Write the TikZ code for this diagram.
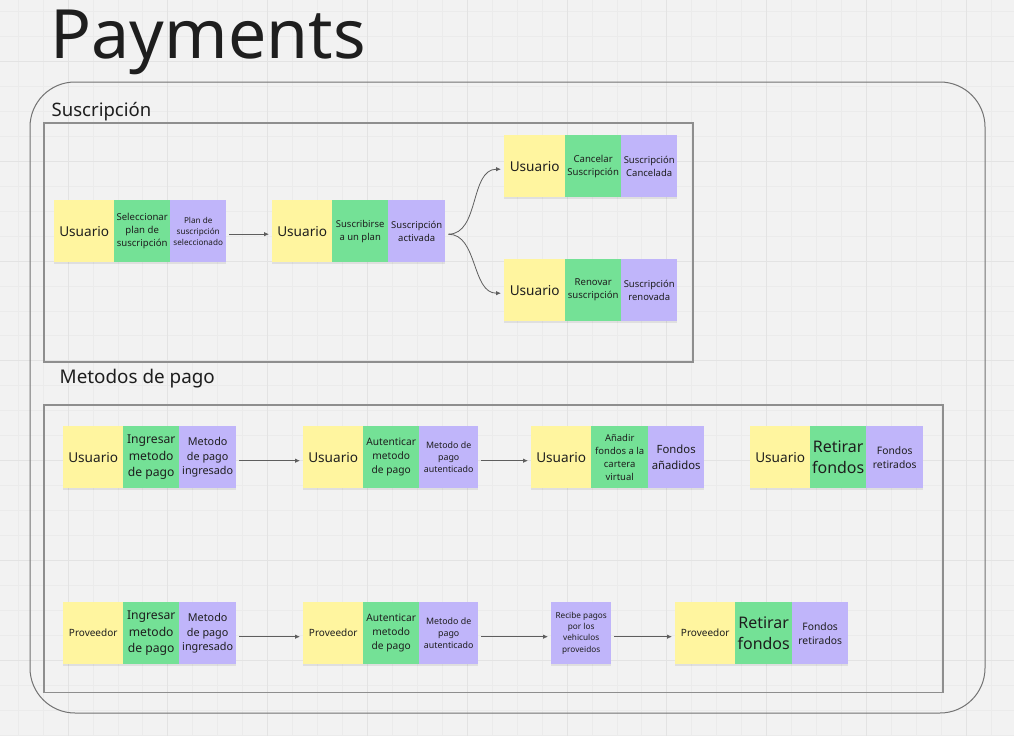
\documentclass[tikz,border=0pt]{standalone}
\usepackage{fontspec}
\setmainfont{Noto Sans}
\usetikzlibrary{arrows.meta,shadows}

\definecolor{bg}{HTML}{F2F2F2}
\definecolor{gridminor}{HTML}{EBEBEB}
\definecolor{gridmajor}{HTML}{E3E3E3}
\definecolor{outerc}{HTML}{727272}
\definecolor{framec}{HTML}{8E8E8E}
\definecolor{arrowc}{HTML}{5E5E5E}
\definecolor{ink}{HTML}{1E1E1E}
\definecolor{stkY}{HTML}{FFF59F}
\definecolor{stkG}{HTML}{74E196}
\definecolor{stkP}{HTML}{C0B5FA}

% font size with matching line spacing
\newcommand\sz[1]{\fontsize{\fpeval{1.03*#1}}{\fpeval{1.03*1.36*#1}}\selectfont}

\tikzset{
  sticky/.style={anchor=north west, minimum height=62pt, inner sep=1pt,
    align=center, text=ink,
    drop shadow={shadow xshift=0pt, shadow yshift=-1.5pt, opacity=0.08, fill=black}},
  yel/.style={sticky, fill=stkY, minimum width=60pt},
  grn/.style={sticky, fill=stkG, minimum width=56pt},
  pur/.style={sticky, fill=stkP, minimum width=56pt},
  flow/.style={draw=arrowc, line width=0.8pt,
    -{Latex[length=5pt,width=4.5pt]}, shorten <=3pt, shorten >=3pt},
  group/.style={draw=framec, line width=1.2pt},
  title/.style={anchor=base west, inner sep=0pt, text=ink},
}

\begin{document}
\begin{tikzpicture}[x=1pt, y=-1pt]
  \useasboundingbox (0,0) rectangle (1014,736);
  \fill[bg] (0,0) rectangle (1014,736);

  % background grid
  \foreach \i in {0,...,40} {
    \draw[gridminor, line width=0.8pt] ({18.1+24.95*\i},0) -- ({18.1+24.95*\i},736);
  }
  \foreach \i in {0,...,29} {
    \draw[gridminor, line width=0.8pt] (0,{11.5+24.95*\i}) -- (1014,{11.5+24.95*\i});
  }
  \foreach \i in {0,...,9} {
    \draw[gridmajor, line width=0.9pt] ({68+99.8*\i},0) -- ({68+99.8*\i},736);
  }
  \foreach \i in {-1,...,6} {
    \draw[gridmajor, line width=0.9pt] (0,{161.2+99.8*\i}) -- (1014,{161.2+99.8*\i});
  }

  % title and frames
  \node[title, font=\sz{66}] (ttl) at (50.5,58) {Payments};
  \draw[outerc, line width=1pt, rounded corners=45pt] (30,82) rectangle (985,713);

  \node[title, font=\sz{18}] (lsus) at (51.5,116.5) {Suscripción};
  \draw[group] (44,123) rectangle (693,362);

  \node[title, font=\sz{18.3}] (lmet) at (59.5,383.3) {Metodos de pago};
  \draw[group] (44,405) rectangle (943,692.5);

  % ---- Suscripción ----
  \node[yel, font=\sz{13.2}] (s1a) at (54,200) {Usuario};
  \node[grn, font=\sz{9.3}] (s1b) at (114,200) {Seleccionar\\plan de\\suscripción};
  \node[pur, font=\sz{7.9}] (s1c) at (170,200) {Plan de\\suscripción\\seleccionado};

  \node[yel, font=\sz{13.2}] (s2a) at (272,200) {Usuario};
  \node[grn, font=\sz{9.2}] (s2b) at (332,200) {Suscribirse\\a un plan};
  \node[pur, font=\sz{9.2}, minimum width=57pt] (s2c) at (388,200) {Suscripción\\activada};

  \node[yel, font=\sz{13.2}, minimum width=61pt] (s3a) at (504,135) {Usuario};
  \node[grn, font=\sz{9.3}] (s3b) at (565,135) {Cancelar\\Suscripción};
  \node[pur, font=\sz{9.2}] (s3c) at (621,135) {Suscripción\\Cancelada};

  \node[yel, font=\sz{13.2}, minimum width=61pt] (s4a) at (504,259) {Usuario};
  \node[grn, font=\sz{9.3}] (s4b) at (565,259) {Renovar\\suscripción};
  \node[pur, font=\sz{9.2}] (s4c) at (621,259) {Suscripción\\renovada};

  \draw[flow] ([yshift=-3pt]s1c.east) -- ([yshift=-3pt]s2a.west);
  \draw[flow] ([yshift=-3pt]s2c.east) to[out=0, in=180] ([yshift=-3pt]s3a.west);
  \draw[flow] ([yshift=-3pt]s2c.east) to[out=0, in=180] ([yshift=-3pt]s4a.west);

  % ---- Metodos de pago: usuario ----
  \node[yel, font=\sz{13.2}] (m1a) at (63,426) {Usuario};
  \node[grn, font=\sz{11.8}] (m1b) at (123,426) {Ingresar\\metodo\\de pago};
  \node[pur, font=\sz{10.5}, minimum width=57pt] (m1c) at (179,426) {Metodo\\de pago\\ingresado};

  \node[yel, font=\sz{13.2}] (m2a) at (303,426) {Usuario};
  \node[grn, font=\sz{9.9}] (m2b) at (363,426) {Autenticar\\metodo\\de pago};
  \node[pur, font=\sz{8.6}, minimum width=59pt] (m2c) at (419,426) {Metodo de\\pago\\autenticado};

  \node[yel, font=\sz{13.2}] (m3a) at (531,426) {Usuario};
  \node[grn, font=\sz{9.2}, minimum width=57pt] (m3b) at (591,426) {Añadir\\fondos a la\\cartera\\virtual};
  \node[pur, font=\sz{11}] (m3c) at (648,426) {Fondos\\añadidos};

  \node[yel, font=\sz{13.2}] (m4a) at (750,426) {Usuario};
  \node[grn, font=\sz{15.5}] (m4b) at (810,426) {Retirar\\fondos};
  \node[pur, font=\sz{10}, minimum width=57pt] (m4c) at (866,426) {Fondos\\retirados};

  \draw[flow] ([yshift=-3.5pt]m1c.east) -- ([yshift=-3.5pt]m2a.west);
  \draw[flow] ([yshift=-3.5pt]m2c.east) -- ([yshift=-3.5pt]m3a.west);

  % ---- Metodos de pago: proveedor ----
  \node[yel, font=\sz{9.7}] (p1a) at (63,602) {Proveedor};
  \node[grn, font=\sz{11.8}] (p1b) at (123,602) {Ingresar\\metodo\\de pago};
  \node[pur, font=\sz{10.5}, minimum width=57pt] (p1c) at (179,602) {Metodo\\de pago\\ingresado};

  \node[yel, font=\sz{9.7}] (p2a) at (303,602) {Proveedor};
  \node[grn, font=\sz{9.9}] (p2b) at (363,602) {Autenticar\\metodo\\de pago};
  \node[pur, font=\sz{8.6}, minimum width=59pt] (p2c) at (419,602) {Metodo de\\pago\\autenticado};

  \node[pur, font=\sz{8}, minimum width=60pt] (p3) at (551,602) {Recibe pagos\\por los\\vehiculos\\proveidos};

  \node[yel, font=\sz{9.7}] (p4a) at (675,602) {Proveedor};
  \node[grn, font=\sz{15.5}, minimum width=57pt] (p4b) at (735,602) {Retirar\\fondos};
  \node[pur, font=\sz{10}] (p4c) at (792,602) {Fondos\\retirados};

  \draw[flow] ([yshift=-3.5pt]p1c.east) -- ([yshift=-3.5pt]p2a.west);
  \draw[flow] ([yshift=-3.5pt]p2c.east) -- ([yshift=-3.5pt]p3.west);
  \draw[flow] ([yshift=-3.5pt]p3.east) -- ([yshift=-3.5pt]p4a.west);
\end{tikzpicture}
\end{document}
